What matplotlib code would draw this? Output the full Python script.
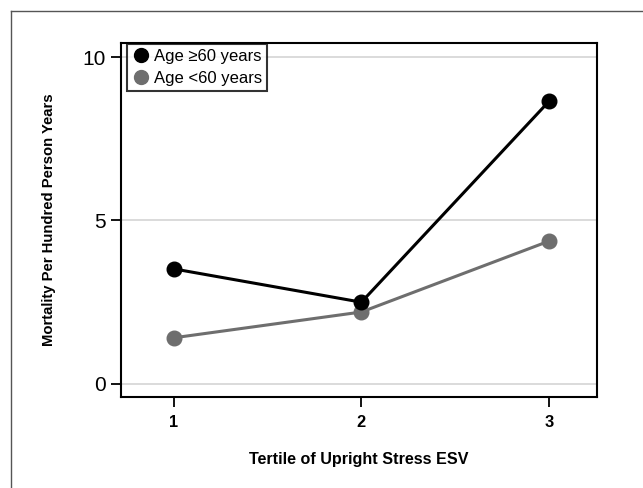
import matplotlib
matplotlib.use("Agg")
import matplotlib.pyplot as plt
from matplotlib.lines import Line2D

plt.rcParams["font.family"] = ["Liberation Sans", "DejaVu Sans"]

tertile = [1, 2, 3]
age_old = [3.52, 2.5, 8.65]
age_young = [1.41, 2.2, 4.37]
labels = ["Age \u226560 years", "Age <60 years"]
yticks = [0, 5, 10]

fig = plt.figure(figsize=(6.43, 4.88), dpi=100)
ax = fig.add_axes([0.1882, 0.1865, 0.7403, 0.7254])

for y in yticks:
    ax.axhline(y, color="#d4d4d4", lw=1.2, zorder=0)

ax.plot(tertile, age_young, color="#6e6e6e", lw=2.2, marker="o", ms=10.5,
        label=labels[1], zorder=3)
ax.plot(tertile, age_old, color="black", lw=2.2, marker="o", ms=10.5,
        label=labels[0], zorder=4)

ax.set_xlim(0.72, 3.255)
ax.set_ylim(-0.4, 10.43)
ax.set_xticks(tertile)
ax.set_xticklabels([str(t) for t in tertile], fontweight="bold", fontsize=11.8)
ax.set_yticks(yticks)
ax.set_yticklabels([str(y) for y in yticks], fontsize=15)
ax.tick_params(axis="both", direction="out", length=7, width=1.3, color="black")
ax.tick_params(axis="x", pad=6)
ax.tick_params(axis="y", pad=4)
for s in ax.spines.values():
    s.set_linewidth(1.5)

ax.set_xlabel("Tertile of Upright Stress ESV", fontweight="bold", fontsize=11.6,
              labelpad=16)
ax.set_ylabel("Mortality Per Hundred Person Years", fontweight="bold",
              fontsize=10.7, labelpad=19)

handles = [Line2D([], [], ls="", marker="o", ms=10, color="black"),
           Line2D([], [], ls="", marker="o", ms=10, color="#6e6e6e")]
leg = ax.legend(handles, labels, loc="upper left", fontsize=12,
                bbox_to_anchor=(6 / 476, 1 - 1 / 354), borderaxespad=0,
                frameon=True, fancybox=False, borderpad=0.32,
                handletextpad=0.3, handlelength=1.0, labelspacing=0.38)
leg.get_frame().set_edgecolor("black")
leg.get_frame().set_linewidth(1.5)

# outer frame lines (left and top)
fig.add_artist(Line2D([11 / 643, 11 / 643], [0, 1 - 11 / 488],
                      transform=fig.transFigure, color="#555555", lw=1.0))
fig.add_artist(Line2D([11 / 643, 1], [1 - 11 / 488, 1 - 11 / 488],
                      transform=fig.transFigure, color="#555555", lw=1.0))

fig.savefig("out.png", dpi=100)
